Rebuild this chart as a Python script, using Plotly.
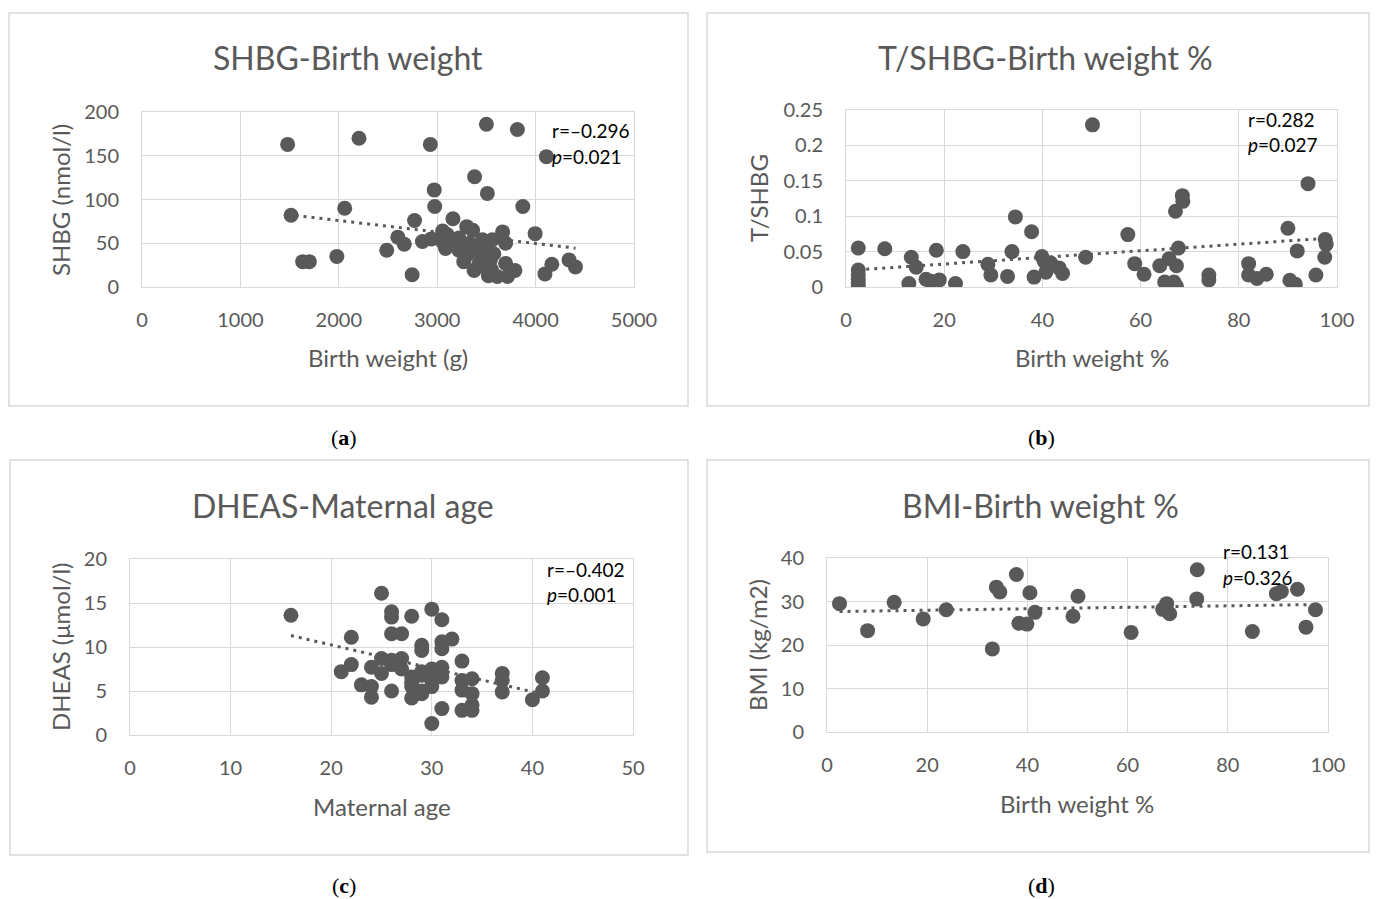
import numpy as np
import plotly.graph_objects as go

# ---------------- data ----------------
# (a) SHBG vs birth weight
a_x = [1480, 1515, 1633, 1700, 1980, 2060, 2205, 2487, 2600, 2665, 2745, 2770, 2850, 2930,
       2940, 2970, 2975, 3055, 3085, 3160, 3220, 3300, 3360, 3380, 3510, 3500, 3815, 3870,
       3995, 4110, 4095, 4165, 4340, 4405, 3270, 3375, 3460, 3490, 3520, 3610, 3715, 3560,
       3665, 3695, 3695, 3790, 3425, 3460, 3575, 3540, 3425, 3305, 3050, 3135, 3220, 3330,
       3100, 3400, 3480, 3550]
a_y = [163, 82, 29, 29, 35, 90, 170, 42, 57, 49, 14, 76, 52, 163,
       55, 111, 92, 64, 44, 78, 42, 69, 65, 126, 107, 186, 180, 92,
       61, 149, 15, 26, 31, 23, 29, 19, 35, 23, 13, 12, 12, 54,
       63, 50, 27, 19, 46, 54, 38, 31, 27, 37, 52, 50, 56, 50,
       60, 42, 45, 20]
a_trend_x = [1480, 4405]
a_trend_y = [82.8, 44.4]

# (b) T/SHBG vs birth weight percentile
b_x = [2.5, 2.5, 2.5, 2.5, 2.5, 2.5, 7.9, 12.8, 13.3, 14.3, 16.3, 17.3, 19.0, 18.4, 22.3,
       23.8, 28.9, 29.5, 32.9, 33.8, 34.5, 37.8, 38.3, 39.9, 40.4, 40.7, 41.7, 43.4, 44.1,
       48.8, 50.2, 57.4, 58.8, 60.7, 63.9, 65.8, 64.9, 66.8, 67.3, 67.3, 67.7, 67.1, 68.5,
       68.6, 73.9, 73.9, 82.0, 82.0, 83.7, 85.6, 90.0, 90.4, 91.5, 91.9, 94.1, 95.7, 97.6,
       97.8, 97.5]
b_y = [0.055, 0.024, 0.017, 0.011, 0.005, 0.0, 0.054, 0.005, 0.042, 0.028, 0.011, 0.008,
       0.010, 0.052, 0.005, 0.050, 0.032, 0.017, 0.015, 0.050, 0.099, 0.078, 0.014, 0.043,
       0.036, 0.021, 0.034, 0.027, 0.019, 0.042, 0.229, 0.074, 0.033, 0.018, 0.030, 0.040,
       0.007, 0.007, 0.030, 0.001, 0.055, 0.107, 0.129, 0.121, 0.017, 0.010, 0.033, 0.017,
       0.012, 0.018, 0.083, 0.0095, 0.004, 0.051, 0.146, 0.017, 0.067, 0.060, 0.042]
b_trend_x = [2.5, 97.8]
b_trend_y = [0.0243, 0.0688]

# (c) DHEAS vs maternal age
c_x = [16, 22, 21, 22, 23, 24, 24, 24, 25, 25, 26, 27, 25, 26, 26, 26, 27, 28, 26, 27,
       28, 28, 28, 29, 29, 29, 29, 30, 31, 31, 31, 32, 30, 30, 31, 31, 30, 31, 33, 33,
       33, 33, 34, 34, 34, 34, 37, 37, 37, 40, 41, 41, 29, 30, 28, 26, 30, 29]
c_y = [13.6, 11.1, 7.2, 8.0, 5.7, 5.5, 4.3, 7.7, 16.1, 8.7, 8.5, 8.7, 7.0, 14.0, 13.4,
       11.5, 11.5, 13.5, 5.0, 7.5, 6.6, 5.5, 4.2, 10.2, 9.6, 4.7, 7.2, 14.3, 13.1, 10.6,
       9.8, 10.9, 7.5, 6.2, 7.7, 6.6, 1.3, 3.0, 8.4, 6.2, 5.1, 2.8, 6.4, 4.7, 3.4, 2.8,
       7.0, 6.2, 4.9, 4.0, 6.5, 5.0, 5.0, 5.5, 6.0, 8.0, 7.0, 6.8]
c_trend_x = [16, 41]
c_trend_y = [11.3, 4.65]

# (d) BMI vs birth weight percentile
d_x = [2.5, 8.1, 13.4, 19.2, 23.8, 33.0, 33.8, 34.5, 37.8, 38.3, 39.9, 40.5, 41.5, 49.1,
       50.1, 60.7, 67.8, 67.0, 68.4, 73.9, 73.8, 84.9, 89.7, 90.7, 93.9, 95.6, 97.5]
d_y = [29.5, 23.3, 29.8, 26.0, 28.1, 19.1, 33.3, 32.2, 36.2, 25.0, 24.8, 32.0, 27.5, 26.6,
       31.2, 22.9, 29.5, 28.2, 27.2, 37.3, 30.6, 23.1, 31.8, 32.3, 32.8, 24.1, 28.1]
d_trend_x = [2.5, 97.5]
d_trend_y = [27.7, 29.3]

titles = ["SHBG-Birth weight", "T/SHBG-Birth weight %", "DHEAS-Maternal age", "BMI-Birth weight %"]
x_titles = ["Birth weight (g)", "Birth weight %", "Maternal age", "Birth weight %"]
y_titles = ["SHBG (nmol/l)", "T/SHBG", "DHEAS (μmol/l)", "BMI (kg/m2)"]
r_texts = ["r=–0.296", "r=0.282", "r=–0.402", "r=0.131"]
p_texts = ["<i>p</i>=0.021", "<i>p</i>=0.027", "<i>p</i>=0.001", "<i>p</i>=0.326"]
panel_labels = ["a", "b", "c", "d"]

# ---------------- layout helpers ----------------
W, H = 1378, 899
OFF = 0
def fx(p):
    return (p - OFF) / W
def fy(p):
    return 1 - (p - OFF) / H

GREY = "#595959"
GRID = "#d9d9d9"
FONT = "Lato"

panels = [
    dict(data=(a_x, a_y), trend=(a_trend_x, a_trend_y), plot=(142, 634, 112, 287), xr=[0, 5000], xd=1000,
         yr=[0, 200], yd=50, box=(9, 13, 688, 406), title=(348, 58), xt=(388, 358), yt=(60, 200),
         rp=(550, 130, 156), lab=(344, 437)),
    dict(data=(b_x, b_y), trend=(b_trend_x, b_trend_y), plot=(846, 1337, 110, 287), xr=[0, 100], xd=20,
         yr=[0, 0.25], yd=0.05, box=(707, 13, 1369, 406), title=(1045, 58), xt=(1092, 358), yt=(758, 198),
         rp=(1246, 120, 145), lab=(1041, 437)),
    dict(data=(c_x, c_y), trend=(c_trend_x, c_trend_y), plot=(130, 633, 559, 735), xr=[0, 50], xd=10,
         yr=[0, 20], yd=5, box=(10, 460, 688, 855), title=(343, 505), xt=(382, 806), yt=(60, 647),
         rp=(545, 569, 594), lab=(344, 885)),
    dict(data=(d_x, d_y), trend=(d_trend_x, d_trend_y), plot=(827, 1328, 558, 732), xr=[0, 100], xd=20,
         yr=[0, 40], yd=10, box=(707, 460, 1369, 852), title=(1040, 505), xt=(1077, 803), yt=(757, 645),
         rp=(1221, 551, 577), lab=(1041, 885)),
]

fig = go.Figure()
shapes = []
annotations = []
layout_axes = {}

for i, pnl in enumerate(panels):
    n = "" if i == 0 else str(i + 1)
    xs, ys = pnl["data"]
    tx, ty = pnl["trend"]
    fig.add_trace(go.Scatter(x=tx, y=ty, mode="lines", xaxis="x" + n, yaxis="y" + n,
                             line=dict(color=GREY, width=3, dash="3px,5px"),
                             hoverinfo="skip", showlegend=False))
    fig.add_trace(go.Scatter(x=xs, y=ys, mode="markers", xaxis="x" + n, yaxis="y" + n,
                             marker=dict(color=GREY, size=15, line=dict(width=0)),
                             showlegend=False))
    l, r, t, b = pnl["plot"]
    axis_common = dict(showgrid=True, gridcolor=GRID, gridwidth=1, zeroline=False,
                       showline=True, linecolor=GRID, linewidth=1, mirror=True,
                       automargin=False,
                       ticks="", tickfont=dict(family=FONT, size=20, color=GREY))
    layout_axes["xaxis" + n] = dict(axis_common, domain=[fx(l), fx(r)], range=pnl["xr"],
                                    dtick=pnl["xd"], tick0=0, anchor="y" + n,
                                    ticklabelstandoff=15)
    layout_axes["yaxis" + n] = dict(axis_common, domain=[fy(b), fy(t)], range=pnl["yr"],
                                    dtick=pnl["yd"], tick0=0, anchor="x" + n,
                                    ticklabelstandoff=18)
    bx0, by0, bx1, by1 = pnl["box"]
    shapes.append(dict(type="rect", xref="paper", yref="paper", x0=fx(bx0), x1=fx(bx1),
                       y0=fy(by1), y1=fy(by0), line=dict(color=GRID, width=1.5), layer="below"))
    annotations.append(dict(text=titles[i], x=fx(pnl["title"][0]), y=fy(pnl["title"][1]),
                            xref="paper", yref="paper", showarrow=False, xanchor="center", yanchor="middle",
                            font=dict(family=FONT, size=32, color=GREY)))
    annotations.append(dict(text=x_titles[i], x=fx(pnl["xt"][0]), y=fy(pnl["xt"][1]),
                            xref="paper", yref="paper", showarrow=False, xanchor="center", yanchor="middle",
                            font=dict(family=FONT, size=24, color=GREY)))
    annotations.append(dict(text=y_titles[i], x=fx(pnl["yt"][0]), y=fy(pnl["yt"][1]),
                            xref="paper", yref="paper", showarrow=False, xanchor="center", yanchor="middle",
                            textangle=-90, font=dict(family=FONT, size=24, color=GREY)))
    rx, ry, py_ = pnl["rp"]
    annotations.append(dict(text=r_texts[i], x=fx(rx), y=fy(ry), xref="paper", yref="paper",
                            showarrow=False, xanchor="left", yanchor="middle",
                            font=dict(family=FONT, size=19, color="#000000")))
    annotations.append(dict(text=p_texts[i], x=fx(rx), y=fy(py_), xref="paper", yref="paper",
                            showarrow=False, xanchor="left", yanchor="middle",
                            font=dict(family=FONT, size=19, color="#000000")))
    annotations.append(dict(text="(<b>" + panel_labels[i] + "</b>)", x=fx(pnl["lab"][0]), y=fy(pnl["lab"][1]),
                            xref="paper", yref="paper", showarrow=False, xanchor="center", yanchor="middle",
                            font=dict(family="Liberation Serif", size=22, color="#000000")))

fig.update_layout(width=W, height=H, margin=dict(l=0, r=0, t=0, b=0, pad=0, autoexpand=False),
                  template="none",
                  paper_bgcolor="white", plot_bgcolor="white", showlegend=False,
                  shapes=shapes, annotations=annotations, **layout_axes)

fig.write_html("out.html", config={"displayModeBar": False},
               post_script="document.body.style.margin='0px';")
